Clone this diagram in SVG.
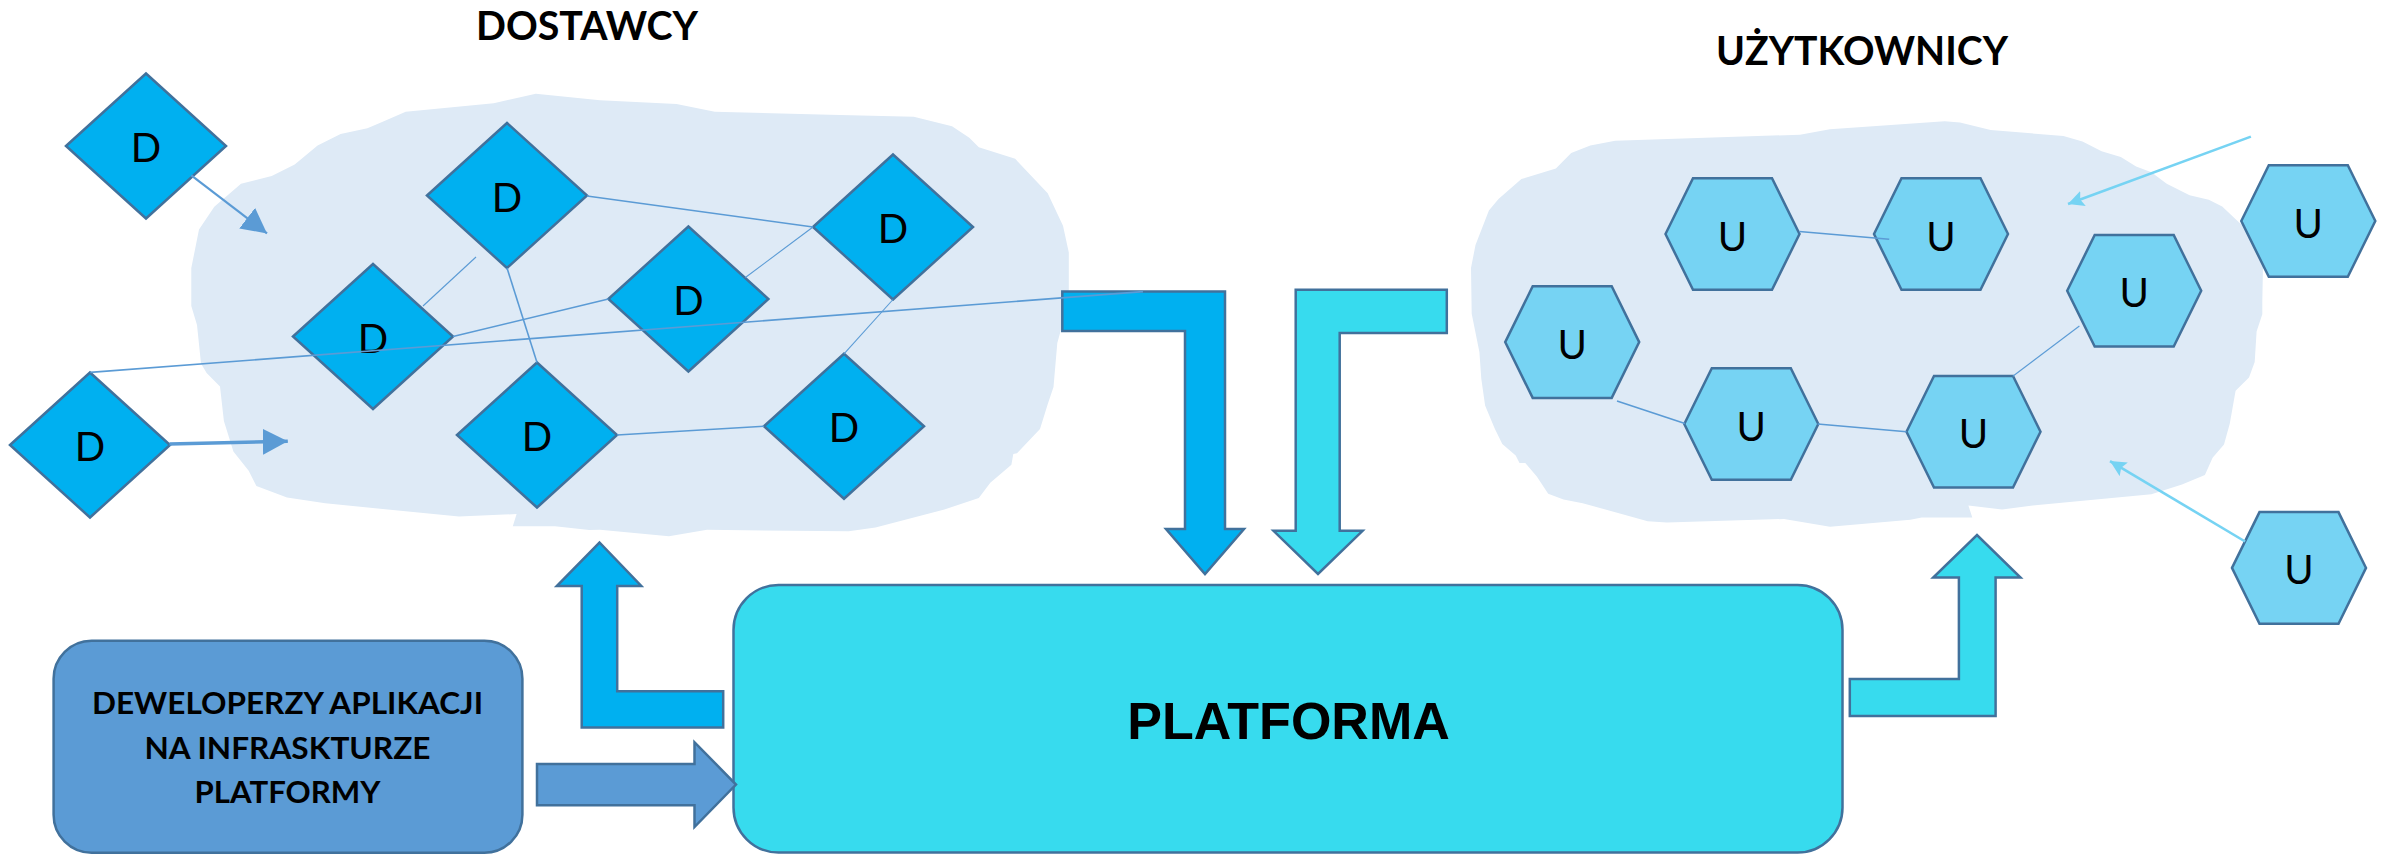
<svg xmlns="http://www.w3.org/2000/svg" width="2384" height="855" viewBox="0 0 2384 855">
  <style>
    .cloud { fill: #DEEAF6; stroke: none; }
    .diamond { fill: #00B0F0; stroke: #41719C; stroke-width: 2.5; }
    .hex { fill: #76D3F3; stroke: #41719C; stroke-width: 2.5; }
    .letter { font-family: Lato, "Open Sans", "DejaVu Sans", sans-serif; font-size: 40px; fill: #000; text-anchor: middle; }
    .title { font-family: Lato, "Open Sans", "DejaVu Sans", sans-serif; font-weight: bold; font-size: 40px; fill: #000; text-anchor: middle; }
    .devtext { font-family: Lato, "Open Sans", "DejaVu Sans", sans-serif; font-weight: bold; font-size: 31px; fill: #000; text-anchor: middle; }
    .platformtext { font-family: "Liberation Sans", Arial, sans-serif; font-weight: bold; font-size: 52px; fill: #000; text-anchor: middle; }
    .link { stroke: #5B9BD5; stroke-width: 1.6; fill: none; }
    .link-thin { stroke: #5B9BD5; stroke-width: 1.1; fill: none; }
    .in-d { stroke: #5B9BD5; fill: none; }
    .in-u { stroke: #76D3F3; stroke-width: 2.6; fill: none; }
    .block { stroke: #41719C; stroke-width: 2.5; stroke-linejoin: miter; }
    .block-blue { fill: #00B0F0; }
    .block-cyan { fill: #37DBEE; }
    .block-dev { fill: #5B9BD5; }
  </style>
  <defs>
    <polygon id="diamond-shape" points="-80,0 0,-72.5 80,0 0,72.5"/>
    <polygon id="hex-shape" points="-67,0 -39.5,-55.8 39.5,-55.8 67,0 39.5,55.8 -39.5,55.8"/>
    <marker id="head-d" markerUnits="userSpaceOnUse" markerWidth="26" markerHeight="26" refX="25" refY="13" orient="auto">
      <path d="M0,0 L25,13 L0,26 Z" fill="#5B9BD5"/>
    </marker>
    <marker id="head-u" markerUnits="userSpaceOnUse" markerWidth="16" markerHeight="16" refX="16" refY="8" orient="auto">
      <path d="M0,0 L16,8 L0,16 L3,8 Z" fill="#76D3F3"/>
    </marker>
  </defs>

  <rect width="2384" height="855" fill="#FFFFFF"/>

  <!-- background clouds -->
  <g id="clouds">
    <polygon id="cloud-dostawcy" class="cloud" points="535.8,93.8 600,100.3 676.5,104 714.8,111.7 829.6,114.8 913.8,116.7 952,126.3 969.3,137.8 978.8,147.3 1015.2,158.8 1047.7,193.3 1063,225.8 1068.8,252.6 1068.8,290 1061,329.6 1057.3,343 1053.5,387 1047.7,404.2 1040,429 1017,453.2 1013.3,454 1011.4,464.7 990.3,482.7 978.8,498 944.4,509.5 875.5,527.5 848.7,531.3 707,529.8 668.9,536.3 600,529.8 589.3,530 555,526.2 512.8,526.2 516.6,514 459,516.6 382.7,509 325.3,503.2 287,497.5 256.4,486 248.7,470.7 233.4,451.6 223.9,421 220,386.5 206.6,373 201,363.6 197,325 191.3,306 191.3,268 199,229.6 214.3,206.7 241,183.7 271.7,176 294.7,164.6 317.6,145.4 340.6,134 367.4,128.2 382.7,121.7 405.7,111.7 493.7,103.3"/>
    <polygon id="cloud-uzytkownicy" class="cloud" points="1615.2,140.8 1800,134.7 1829.9,129.3 1944.7,121.3 1960,122.5 1990.6,130.1 2063.4,135.9 2082.5,141.6 2101.6,151.2 2120.8,156.9 2136.1,166.5 2151.4,172.2 2166.7,183.7 2189.6,195.2 2208.8,199.8 2222.2,206.6 2239.4,222.7 2258.5,237.3 2263.1,260.2 2262.3,302.3 2262.3,314.3 2256.6,331.5 2254.7,362.1 2249,377.5 2235.6,390.8 2229.8,423.4 2224,444.4 2212.6,457.8 2204.9,475 2182,484.6 2151.4,494.2 2032.7,505.6 2002.1,509.5 1968.4,505.6 1972.3,517.5 1921.8,517.5 1910.3,519.8 1830,526.7 1784,519 1666.9,522.4 1647.7,521.2 1582.7,503.2 1563.5,499.4 1548.2,493.7 1536.8,476.4 1525.3,463 1519.5,463 1515.7,455.4 1502.3,443.9 1494.7,428.6 1485.1,405.6 1481.3,378.8 1479.4,352 1471.7,313.8 1471,267.9 1475.5,245 1488.9,210.5 1498.5,199 1521.4,179.1 1555.9,168.4 1571.2,153 1590.3,145.4"/>
  </g>

  <!-- group titles -->
  <text id="title-dostawcy" class="title" x="587" y="40" textLength="222" lengthAdjust="spacingAndGlyphs">DOSTAWCY</text>
  <text id="title-uzytkownicy" class="title" x="1862" y="65" textLength="292" lengthAdjust="spacingAndGlyphs">UŻYTKOWNICY</text>

  <!-- main boxes -->
  <g id="platforma">
    <rect x="733.5" y="585" width="1109" height="267.5" rx="45" ry="45" fill="#37DBEE" stroke="#41719C" stroke-width="2.5"/>
    <text class="platformtext" x="1288.5" y="739">PLATFORMA</text>
  </g>
  <g id="deweloperzy">
    <rect x="53.6" y="640.7" width="468.8" height="212" rx="38" ry="38" fill="#5B9BD5" stroke="#41719C" stroke-width="2.5"/>
    <text class="devtext" x="287.5" y="714" textLength="391" lengthAdjust="spacingAndGlyphs">DEWELOPERZY APLIKACJI</text>
    <text class="devtext" x="287.5" y="759" textLength="286" lengthAdjust="spacingAndGlyphs">NA INFRASKTURZE</text>
    <text class="devtext" x="287.5" y="803" textLength="186" lengthAdjust="spacingAndGlyphs">PLATFORMY</text>
  </g>

  <!-- suppliers -->
  <g id="d1" transform="translate(146,146)"><use href="#diamond-shape" class="diamond"/><text class="letter" y="16">D</text></g>
  <g id="d2" transform="translate(507,195.5)"><use href="#diamond-shape" class="diamond"/><text class="letter" y="16">D</text></g>
  <g id="d3" transform="translate(373,336.5)"><use href="#diamond-shape" class="diamond"/><text class="letter" y="16">D</text></g>
  <g id="d4" transform="translate(90,445)"><use href="#diamond-shape" class="diamond"/><text class="letter" y="16">D</text></g>
  <g id="d5" transform="translate(537,435)"><use href="#diamond-shape" class="diamond"/><text class="letter" y="16">D</text></g>
  <g id="d6" transform="translate(893,227)"><use href="#diamond-shape" class="diamond"/><text class="letter" y="16">D</text></g>
  <g id="d7" transform="translate(688.4,299)"><use href="#diamond-shape" class="diamond"/><text class="letter" y="16">D</text></g>
  <g id="d8" transform="translate(844,426.3)"><use href="#diamond-shape" class="diamond"/><text class="letter" y="16">D</text></g>

  <!-- users -->
  <g id="u1" transform="translate(1732.5,234)"><use href="#hex-shape" class="hex"/><text class="letter" y="16.5">U</text></g>
  <g id="u2" transform="translate(1572.2,342.1)"><use href="#hex-shape" class="hex"/><text class="letter" y="16.5">U</text></g>
  <g id="u3" transform="translate(1751.3,424)"><use href="#hex-shape" class="hex"/><text class="letter" y="16.5">U</text></g>
  <g id="u4" transform="translate(1941,234)"><use href="#hex-shape" class="hex"/><text class="letter" y="16.5">U</text></g>
  <g id="u5" transform="translate(2134.2,290.8)"><use href="#hex-shape" class="hex"/><text class="letter" y="16.5">U</text></g>
  <g id="u6" transform="translate(2308.3,221)"><use href="#hex-shape" class="hex"/><text class="letter" y="16.5">U</text></g>
  <g id="u7" transform="translate(1973.5,431.7)"><use href="#hex-shape" class="hex"/><text class="letter" y="16.5">U</text></g>
  <g id="u8" transform="translate(2299,567.9)"><use href="#hex-shape" class="hex"/><text class="letter" y="16.5">U</text></g>

  <g id="connectors">
    <!-- block arrows around the platform -->
    <polygon class="block block-blue" points="1062.3,291.6 1225,291.6 1225,529 1244,529 1205,574 1166,529 1185,529 1185,331 1062.3,331"/>
    <polygon class="block block-cyan" points="1446.8,289.7 1295.7,289.7 1295.7,530.8 1273.5,530.8 1318,574 1362.6,530.8 1339.7,530.8 1339.7,333 1446.8,333"/>
    <polygon class="block block-blue" points="723.2,691.2 617.2,691.2 617.2,586 641.3,586 599.5,542.5 556.8,586 581.7,586 581.7,727.6 723.2,727.6"/>
    <polygon class="block block-cyan" points="1849.8,679 1958.9,679 1958.9,577.6 1933.2,577.6 1977,535 2020.5,577.6 1995.6,577.6 1995.6,716.1 1849.8,716.1"/>
    <polygon class="block block-dev" points="537,764 694.5,764 694.5,742.2 736,784.5 694.5,827 694.5,805.3 537,805.3"/>

    <!-- links between suppliers -->
    <line class="link" x1="587" y1="196" x2="813" y2="227"/>
    <line class="link-thin" x1="813" y1="227" x2="745.4" y2="277.5"/>
    <line class="link-thin" x1="423" y1="306" x2="476" y2="257"/>
    <line class="link" x1="507" y1="268" x2="537" y2="362.5"/>
    <line class="link" x1="453" y1="336.5" x2="608.4" y2="299"/>
    <line class="link" x1="90.3" y1="372.4" x2="1143" y2="291.6"/>
    <line class="link-thin" x1="893" y1="299.5" x2="844" y2="353.8"/>
    <line class="link" x1="617" y1="435" x2="764" y2="426.3"/>

    <!-- suppliers joining -->
    <line class="in-d" stroke-width="2.2" x1="191.3" y1="175.3" x2="267" y2="233.4" marker-end="url(#head-d)"/>
    <line class="in-d" stroke-width="3.5" x1="169.5" y1="444" x2="287.8" y2="441.2" marker-end="url(#head-d)"/>

    <!-- links between users -->
    <line class="link" x1="1799.3" y1="231.5" x2="1889.2" y2="239.2"/>
    <line class="link" x1="1617" y1="401" x2="1684.9" y2="423.6"/>
    <line class="link" x1="1817.7" y1="424" x2="1906.5" y2="431.7"/>
    <line class="link-thin" x1="2012.8" y1="376.2" x2="2079.4" y2="326"/>

    <!-- users joining -->
    <line class="in-u" x1="2250.9" y1="136.6" x2="2068" y2="204" marker-end="url(#head-u)"/>
    <line class="in-u" x1="2245.1" y1="541.5" x2="2110" y2="461.1" marker-end="url(#head-u)"/>
  </g>
</svg>
